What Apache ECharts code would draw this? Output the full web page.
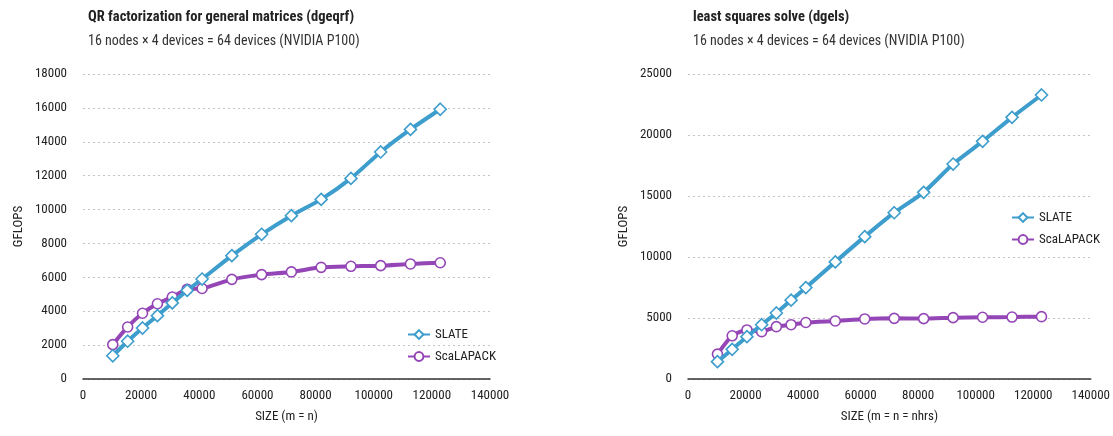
<!DOCTYPE html>
<html>
<head>
<meta charset="utf-8">
<script src="https://cdn.jsdelivr.net/npm/echarts@6/dist/echarts.min.js"></script>
<style>
  html, body { margin: 0; padding: 0; background: #fff; }
  #chart { width: 1113px; height: 436px; }
</style>
</head>
<body>
<div id="chart"></div>
<script>
// matrix sizes (k * 1024)
var sizes = [10240, 15360, 20480, 25600, 30720, 35840, 40960, 51200, 61440, 71680, 81920, 92160, 102400, 112640, 122880];

// dgeqrf
var qrSlate     = [1370, 2230, 3010, 3740, 4490, 5230, 5900, 7280, 8540, 9640, 10600, 11840, 13400, 14730, 15920];
var qrScalapack = [2030, 3070, 3880, 4440, 4840, 5300, 5340, 5880, 6160, 6320, 6590, 6650, 6690, 6790, 6860];

// dgels
var lsSlate     = [1420, 2430, 3470, 4450, 5410, 6460, 7490, 9600, 11670, 13630, 15300, 17620, 19480, 21450, 23280];
var lsScalapack = [2040, 3540, 4020, 3880, 4290, 4450, 4630, 4760, 4920, 4970, 4950, 5030, 5060, 5080, 5110];

var titles = ['QR factorization for general matrices (dgeqrf)', 'least squares solve (dgels)'];
var subtitle = '16 nodes \u00d7 4 devices = 64 devices (NVIDIA P100)';
var xNames = ['SIZE (m = n)', 'SIZE (m = n = nhrs)'];

var FONT = "'Roboto Condensed', 'Roboto', sans-serif";
var BLUE = '#3d9dcc';
var PURPLE = '#9446b6';

function pairs(xs, ys) {
    return xs.map(function (x, i) { return [x, ys[i]]; });
}

function plain(v) { return String(v); }

function xAxis(idx) {
    return {
        type: 'value', gridIndex: idx,
        min: 0, max: 140000, interval: 20000,
        name: xNames[idx], nameLocation: 'middle', nameGap: 31,
        nameTextStyle: { fontFamily: FONT, fontSize: 13, color: '#222' },
        axisLine: { show: true, lineStyle: { color: '#333', width: 1.5 } },
        axisTick: { show: false },
        axisLabel: { fontFamily: FONT, fontSize: 13, color: '#222', margin: 10, formatter: plain },
        splitLine: { show: false }
    };
}

function yAxis(idx, max, interval) {
    return {
        type: 'value', gridIndex: idx,
        min: 0, max: max, interval: interval,
        name: 'GFLOPS', nameLocation: 'middle', nameGap: 58, nameRotate: 90,
        nameTextStyle: { fontFamily: FONT, fontSize: 13, color: '#222' },
        axisLine: { show: false },
        axisTick: { show: false },
        axisLabel: { fontFamily: FONT, fontSize: 13, color: '#222', margin: 16, formatter: plain },
        splitLine: { lineStyle: { color: '#c4c4c4', type: [2, 3], width: 1 } }
    };
}

function series(name, idx, data, color, symbol, size) {
    return {
        name: name, type: 'line',
        xAxisIndex: idx, yAxisIndex: idx,
        data: data,
        smooth: 0.2,
        symbol: symbol, symbolSize: size,
        showAllSymbol: true,
        z: name == 'SLATE' ? 3 : 2,
        lineStyle: { color: color, width: 4 },
        itemStyle: { color: '#fff', borderColor: color, borderWidth: 1.6 }
    };
}

var titleStyle = { fontFamily: FONT, fontSize: 14.5, fontWeight: 'bold', color: '#222' };
var subStyle = { fontFamily: FONT, fontSize: 14, fontWeight: 'normal', color: '#333' };

var option = {
    animation: false,
    backgroundColor: '#fff',
    textStyle: { fontFamily: FONT },
    title: [
        { text: titles[0], left: 83, top: 5, textStyle: titleStyle },
        { text: subtitle, left: 83, top: 29, textStyle: subStyle },
        { text: titles[1], left: 688, top: 5, textStyle: titleStyle },
        { text: subtitle, left: 688, top: 29, textStyle: subStyle }
    ],
    legend: [
        {
            data: ['SLATE', 'ScaLAPACK'],
            orient: 'vertical', left: 402, top: 323,
            itemWidth: 22, itemHeight: 11, itemGap: 9,
            textStyle: { fontFamily: FONT, fontSize: 13, color: '#222' }
        },
        {
            data: ['SLATE', 'ScaLAPACK'],
            orient: 'vertical', left: 1006, top: 206,
            itemWidth: 22, itemHeight: 11, itemGap: 9,
            textStyle: { fontFamily: FONT, fontSize: 13, color: '#222' }
        }
    ],
    grid: [
        { left: 83, top: 74, width: 407, height: 305 },
        { left: 688, top: 74, width: 406, height: 305 }
    ],
    xAxis: [xAxis(0), xAxis(1)],
    yAxis: [yAxis(0, 18000, 2000), yAxis(1, 25000, 5000)],
    series: [
        series('ScaLAPACK', 0, pairs(sizes, qrScalapack), PURPLE, 'circle', 10),
        series('SLATE', 0, pairs(sizes, qrSlate), BLUE, 'diamond', 12),
        series('ScaLAPACK', 1, pairs(sizes, lsScalapack), PURPLE, 'circle', 10),
        series('SLATE', 1, pairs(sizes, lsSlate), BLUE, 'diamond', 12)
    ]
};

var chart = echarts.init(document.getElementById('chart'));
chart.setOption(option);
</script>
</body>
</html>
